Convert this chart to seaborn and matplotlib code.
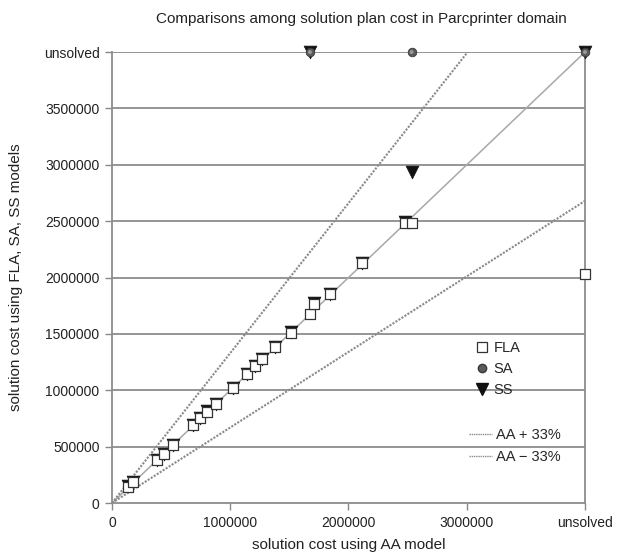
import matplotlib
matplotlib.use("Agg")
import matplotlib.pyplot as plt
from matplotlib.lines import Line2D
import seaborn as sns
import numpy as np
import pandas as pd

UNSOLVED = 4000000

# AA model cost for each problem (UNSOLVED = 4000000)
aa_cost = [138000, 180000, 378000, 440000, 518000, 688000, 744000, 801000, 877000,
           1021000, 1139000, 1209000, 1271000, 1378000, 1511000, 1674000, 1711000,
           1843000, 2117000, 2478000, 2534000, UNSOLVED]
fla_cost = [145000, 183000, 381000, 435000, 514000, 692000, 751000, 810000, 878000,
            1017000, 1144000, 1215000, 1274000, 1381000, 1510000, 1676000, 1765000,
            1854000, 2126000, 2486000, 2486000, 2030000]
sa_cost = [145000, 183000, 381000, 435000, 514000, 692000, 751000, 810000, 878000,
           1017000, 1144000, 1215000, 1274000, 1381000, 1510000, UNSOLVED, 1765000,
           1854000, 2126000, 2486000, UNSOLVED, UNSOLVED]
ss_cost = [148000, 186000, 384000, 438000, 517000, 695000, 754000, 813000, 881000,
           1020000, 1147000, 1218000, 1277000, 1384000, 1513000, UNSOLVED, 1770000,
           1857000, 2129000, 2489000, 2938000, UNSOLVED]

x_ticks = [0, 1000000, 2000000, 3000000, UNSOLVED]
x_ticklabels = ["0", "1000000", "2000000", "3000000", "unsolved"]
y_ticks = [0, 500000, 1000000, 1500000, 2000000, 2500000, 3000000, 3500000, UNSOLVED]
y_ticklabels = ["0", "500000", "1000000", "1500000", "2000000", "2500000",
                "3000000", "3500000", "unsolved"]
band = 0.33

sns.set_theme(style="white")
plt.rcParams["font.family"] = ["Liberation Sans", "DejaVu Sans"]

fig = plt.figure(figsize=(6.17, 5.54), dpi=100)
ax = fig.add_axes([0.1815, 0.092, 0.7666, 0.814])

df = pd.DataFrame({
    "AA": aa_cost * 3,
    "cost": fla_cost + sa_cost + ss_cost,
    "model": ["FLA"] * len(aa_cost) + ["SA"] * len(aa_cost) + ["SS"] * len(aa_cost),
})

# reference lines
xs = np.array([0, UNSOLVED])
ax.plot(xs, xs, color="#a8a8a8", lw=1.1, zorder=2)
ax.plot(xs, xs * (1 + band), color="#8a8a8a", lw=1.5, ls=(0, (1, 0.7)), zorder=2)
ax.plot(xs, xs * (1 - band), color="#8a8a8a", lw=1.5, ls=(0, (1, 0.7)), zorder=2)

sns.scatterplot(data=df[df.model == "SS"], x="AA", y="cost", marker="v", s=85,
                color="#111111", edgecolor="#111111", linewidth=0.5, ax=ax,
                zorder=4, legend=False, clip_on=False)
sns.scatterplot(data=df[df.model == "SA"], x="AA", y="cost", marker="o", s=38,
                color="#5a5a5a", edgecolor="#3a3a3a", linewidth=0.6, ax=ax,
                zorder=5, legend=False, clip_on=False)
sns.scatterplot(data=df[df.model == "SA"], x="AA", y="cost", marker="o", s=8,
                color="#9a9a9a", edgecolor="none", linewidth=0, ax=ax,
                zorder=5, legend=False, clip_on=False)
sns.scatterplot(data=df[df.model == "FLA"], x="AA", y="cost", marker="s", s=55,
                color="white", edgecolor="#333333", linewidth=0.9, ax=ax,
                zorder=6, legend=False, clip_on=False)

ax.set_xlim(0, UNSOLVED)
ax.set_ylim(0, UNSOLVED)
ax.set_xticks(x_ticks)
ax.set_xticklabels(x_ticklabels)
ax.set_yticks(y_ticks)
ax.set_yticklabels(y_ticklabels)
ax.tick_params(axis="both", which="both", direction="out", length=5, width=1,
               color="#888888", labelsize=10, labelcolor="#222222", pad=4,
               bottom=True, left=True)
for yv in y_ticks[1:]:
    ax.axhline(yv, color="#8c8c8c", lw=1.3, zorder=1)
for side in ["left", "bottom", "right"]:
    ax.spines[side].set_color("#8c8c8c")
    ax.spines[side].set_linewidth(1.3)
ax.spines["top"].set_visible(False)

ax.set_xlabel("solution cost using AA model", fontsize=11, color="#222222", labelpad=6)
ax.set_ylabel("solution cost using FLA, SA, SS models", fontsize=11,
              color="#222222", labelpad=15)
fig.text(0.585, 0.965, "Comparisons among solution plan cost in Parcprinter domain",
         ha="center", va="center", fontsize=11, color="#222222")

h1 = [Line2D([], [], ls="none", marker="s", markersize=7, markerfacecolor="white",
             markeredgecolor="#333333", markeredgewidth=0.9),
      Line2D([], [], ls="none", marker="o", markersize=6, markerfacecolor="#5a5a5a",
             markeredgecolor="#3a3a3a"),
      Line2D([], [], ls="none", marker="v", markersize=8, markerfacecolor="#111111",
             markeredgecolor="#111111")]
leg1 = ax.legend(h1, ["FLA", "SA", "SS"], loc="upper left",
                 bbox_to_anchor=(0.766, 0.36), frameon=False, fontsize=10.5,
                 handlelength=1.0, handletextpad=0.3, labelspacing=0.5,
                 borderaxespad=0, borderpad=0)
ax.add_artist(leg1)
h2 = [Line2D([], [], color="#8a8a8a", lw=1.0, ls=(0, (1, 0.6))),
      Line2D([], [], color="#8a8a8a", lw=1.0, ls=(0, (1, 0.6)))]
ax.legend(h2, ["AA + 33%", "AA \u2212 33%"], loc="upper left",
          bbox_to_anchor=(0.754, 0.167), frameon=False, fontsize=10.5,
          handlelength=1.6, handletextpad=0.3, labelspacing=0.55,
          borderaxespad=0, borderpad=0)

fig.savefig("out.png", dpi=100)
